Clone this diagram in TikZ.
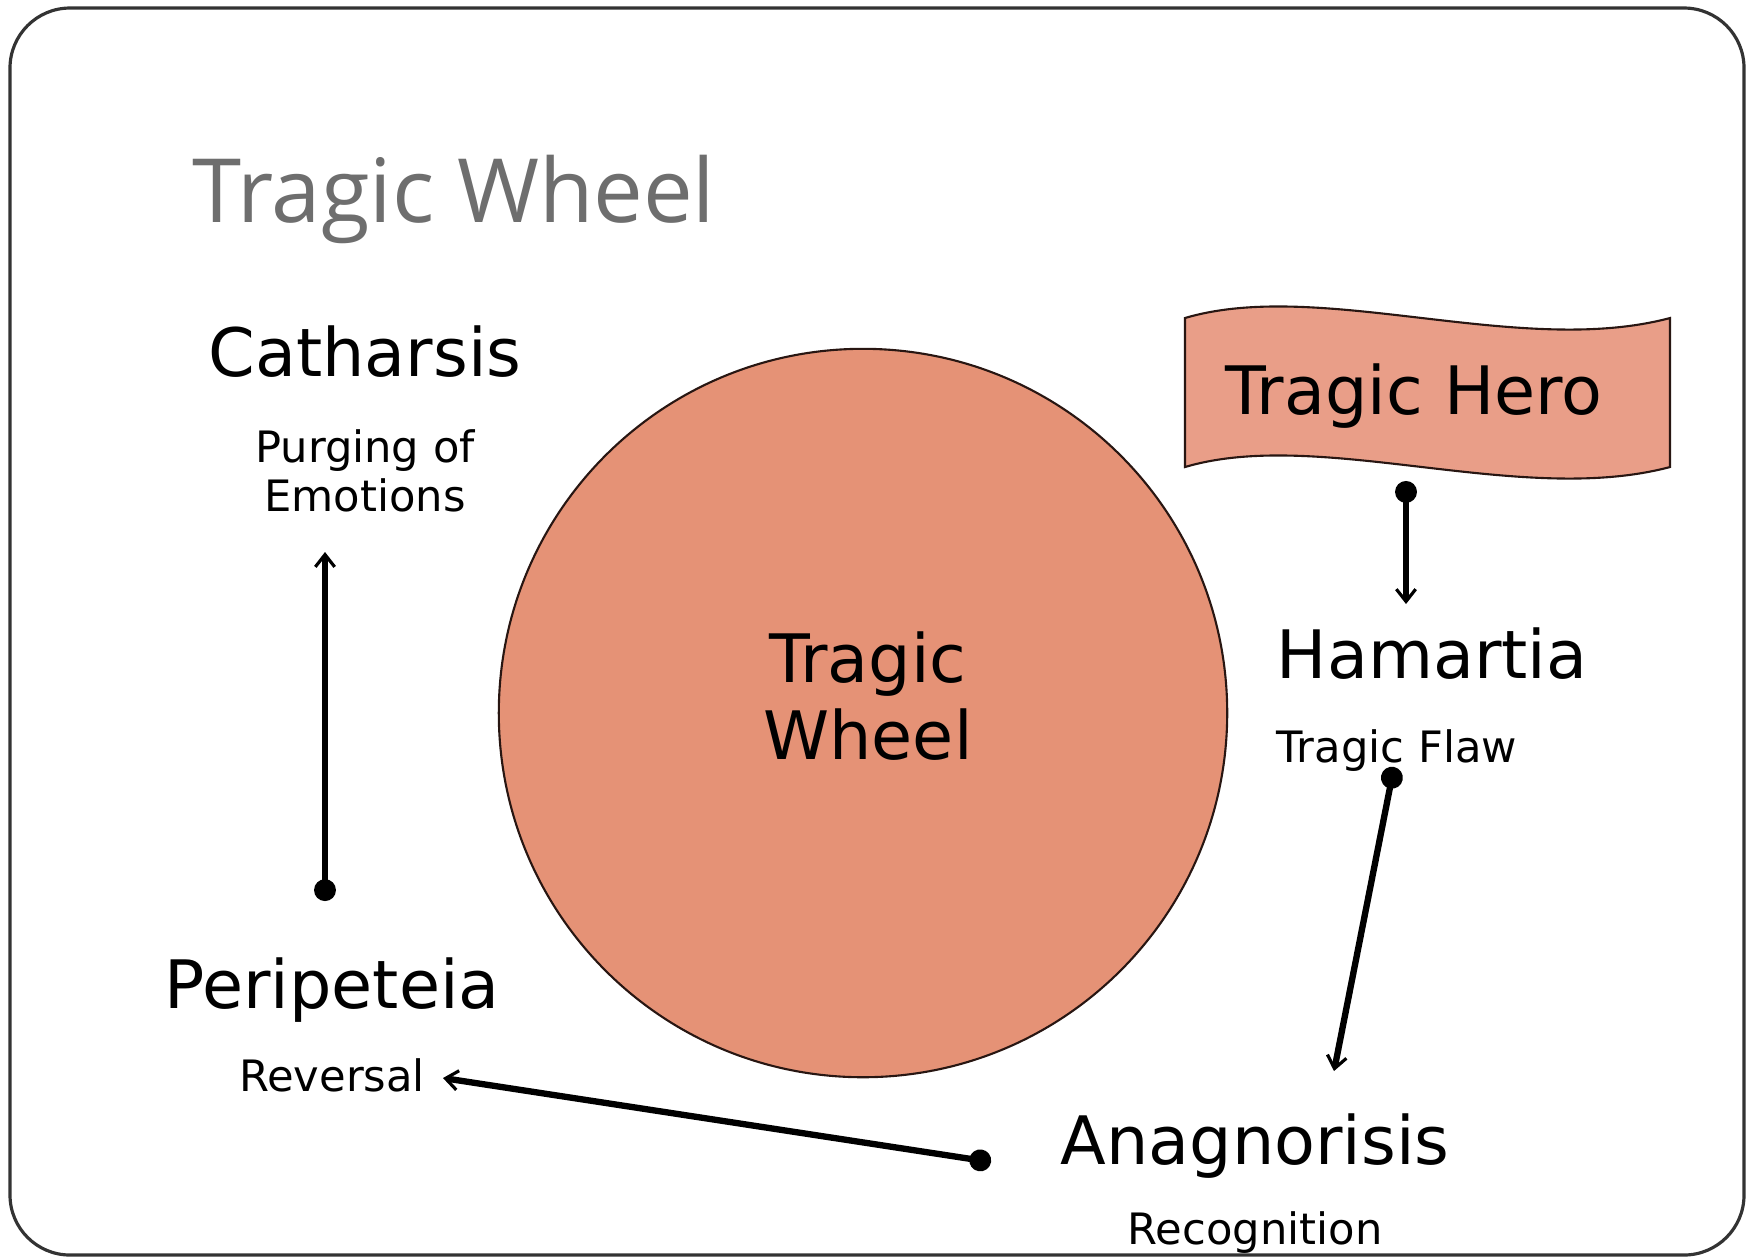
\documentclass[tikz,border=0pt]{standalone}
\usepackage{fontspec}
\setmainfont{DejaVu Sans}
\newfontfamily\titlefont{Open Sans}
\usetikzlibrary{arrows.meta,positioning}
\definecolor{wheelfill}{RGB}{229,146,118}
\definecolor{herofill}{RGB}{233,158,136}
\definecolor{titlegray}{RGB}{110,110,110}
\definecolor{rimline}{RGB}{40,22,18}

\begin{document}
\begin{tikzpicture}[x=0.01cm, y=-0.01cm,
  big/.style={font=\fontsize{19}{22}\selectfont, inner sep=0pt, align=center},
  small/.style={font=\fontsize{12.3}{14}\selectfont, inner sep=0pt, align=center},
  link/.style={line width=1.8pt, {Circle[length=6.2pt]}-{Straight Barb[length=3.5pt,width=5.5pt,line width=0.9pt]}}]
\useasboundingbox (0,0) rectangle (1746,1259);
\draw[line width=0.9pt, draw=black!80, rounded corners=0.6cm] (10,8) rectangle (1744,1255);
\node[anchor=base west, inner sep=0pt, font=\titlefont\fontsize{25.2}{28}\selectfont, text=titlegray] (title) at (192,222) {Tragic Wheel};
\node[circle, draw=rimline, fill=wheelfill, line width=0.6pt, minimum size=7.28cm, inner sep=0pt] (wheel) at (863,713) {};
\node[big] (wheeltext) at (868,696) {Tragic\\Wheel};
\draw[draw=rimline, fill=herofill, line width=0.6pt] (1185,318) .. controls (1320,278) and (1520,358) .. (1670,318)
  -- (1670,467) .. controls (1520,507) and (1320,427) .. (1185,467) -- cycle;
\node[big, anchor=base] (hero) at (1414,414) {Tragic Hero};
\node[big, anchor=base] (catharsis) at (365,376) {Catharsis};
\node[small, below=5.1mm of catharsis] (purging) {Purging of\\Emotions};
\node[big, anchor=base] (peripeteia) at (332,1008) {Peripeteia};
\node[small, below=3.5mm of peripeteia] (reversal) {Reversal};
\node[big, anchor=base] (hamartia) at (1432,678) {Hamartia};
\node[small, below=4.9mm of hamartia.south west, anchor=north west] (flaw) {Tragic Flaw};
\node[big, anchor=base] (anagnorisis) at (1255,1164) {Anagnorisis};
\node[small, below=3.2mm of anagnorisis] (recognition) {Recognition};
\coordinate (heroTail) at (1406,481);
\coordinate (heroTip) at (1406,604);
\coordinate (flawTail) at (1394,767);
\coordinate (flawTip) at (1334,1071);
\coordinate (anagTail) at (991,1162);
\coordinate (anagTip) at (443,1078);
\coordinate (periTail) at (325,901);
\coordinate (periTip) at (325,552);
\draw[link] (heroTail) -- (heroTip);
\draw[link] (flawTail) -- (flawTip);
\draw[link] (anagTail) -- (anagTip);
\draw[link] (periTail) -- (periTip);
\end{tikzpicture}
\end{document}
